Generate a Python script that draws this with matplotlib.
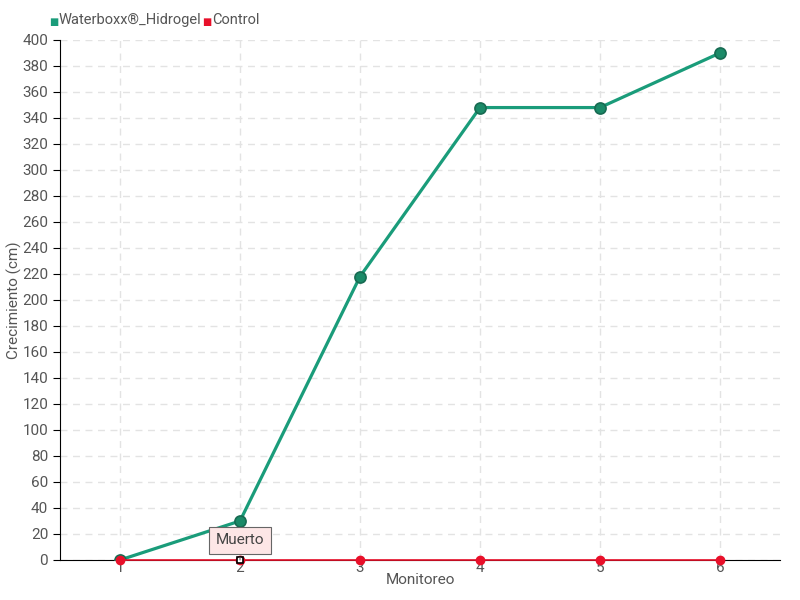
import matplotlib
matplotlib.use("Agg")
import matplotlib.pyplot as plt
import numpy as np

monitoreo = [1, 2, 3, 4, 5, 6]
waterboxx = [0, 30, 218, 348, 348, 390]
control = [0, 0, 0, 0, 0, 0]

plt.rcParams['font.family'] = ['Roboto', 'DejaVu Sans']
txt = '#555555'

fig = plt.figure(figsize=(8, 6), dpi=100)
ax = fig.add_axes([0.075, 0.0667, 0.9, 0.8667])

ax.plot(monitoreo, waterboxx, color='#1a9c7a', lw=2.3, marker='o', ms=8,
        mfc='#1b8a68', mec='#176b52', mew=1.2, zorder=3)
ax.plot(monitoreo, control, color='#e8102a', lw=1.2, marker='o', ms=6,
        mfc='#e8102a', mec='#e8102a', zorder=4, clip_on=False)
ax.plot([2], [0], marker='s', ms=5, mfc='white', mec='black', mew=1.2, zorder=5,
        clip_on=False)

ax.annotate('Muerto', xy=(2, 0), xytext=(2, 15), ha='center', va='center',
            fontsize=11, color='#444444',
            bbox=dict(boxstyle='square,pad=0.45', fc='#fde6e6', ec='#666666', lw=0.8),
            arrowprops=dict(arrowstyle='-', color='#666666', lw=0.8), zorder=6)

ax.set_xlim(0.5, 6.5)
ax.set_ylim(0, 400)
ax.set_yticks(np.arange(0, 401, 20))
ax.set_xticks(monitoreo)
ax.grid(True, ls=(0, (5, 4)), color='#e3e3e3', lw=1)
ax.set_axisbelow(True)
for s in ['top', 'right']:
    ax.spines[s].set_visible(False)
ax.tick_params(axis='y', direction='out', length=5, color='black', labelsize=11, labelcolor=txt)
ax.tick_params(axis='x', length=0, labelsize=11, labelcolor=txt, pad=1)
ax.set_xlabel('Monitoreo', color=txt, fontsize=11, labelpad=-2)
ax.set_ylabel('Crecimiento (cm)', color=txt, fontsize=11, labelpad=0)

fig.text(0.061, 0.963, '■', color='#1a9c7a', fontsize=7, va='center')
fig.text(0.073, 0.966, 'Waterboxx®_Hidrogel', color=txt, fontsize=10.5, va='center')
fig.text(0.253, 0.963, '■', color='#e8102a', fontsize=7, va='center')
fig.text(0.265, 0.966, 'Control', color=txt, fontsize=10.5, va='center')

fig.savefig('out.png', dpi=100)
